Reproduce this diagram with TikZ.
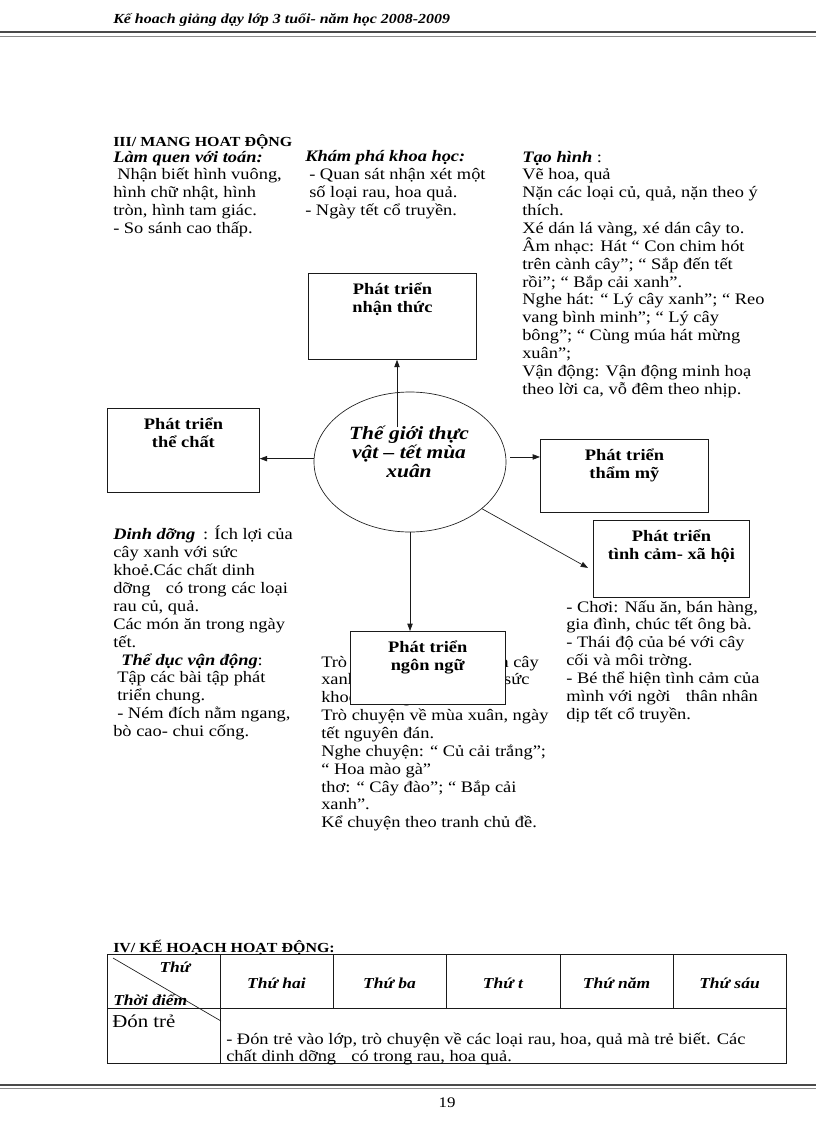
\documentclass[tikz,border=0pt]{standalone}
\usepackage{fontspec}
\setmainfont[FakeStretch=1.15]{Liberation Serif}
\usepackage{tikz}
\usetikzlibrary{arrows.meta,shapes.geometric,positioning,calc}
\definecolor{cLine}{HTML}{1A1A1A}
\definecolor{cRule}{HTML}{4A4A4A}
\definecolor{cRuleL}{HTML}{8A8A8A}
\newcommand\vnlines{\lineskiplimit=-20pt\relax}
\tikzset{
  bodytxt/.style={anchor=base west,align=left,inner sep=0pt,
      font=\fontsize{12}{13.4}\selectfont\vnlines,text=black},
  headtxt/.style={anchor=base west,inner sep=0pt,
      font=\bfseries\fontsize{10.4}{12}\selectfont,text=black},
  devbox/.style={draw=cLine,fill=white,line width=0.6pt,align=center,
      inner xsep=0pt,inner ysep=0pt,anchor=north west,text height=29.15pt,
      font=\bfseries\fontsize{12}{13.4}\selectfont\vnlines},
  devarr/.style={-{Triangle[length=5.5pt,width=4pt]},line width=0.5pt,draw=cLine},
  themeell/.style={ellipse,draw=cLine,line width=0.5pt,inner sep=0pt},
  tabline/.style={draw=cLine,line width=0.6pt},
  tabhead/.style={anchor=base,inner sep=0pt,
      font=\bfseries\itshape\fontsize{11.4}{14}\selectfont},
}

\begin{document}
\begin{tikzpicture}[x=0.75pt,y=-0.75pt]
  \useasboundingbox (0,0) rectangle (816,1123);

  % page header and footer
  \node[anchor=base west,inner sep=0pt,font=\bfseries\itshape\fontsize{10.4}{13}\selectfont]
    (pghead) at (113,24) {Kế hoach giảng dạy lớp 3 tuổi- năm học 2008-2009};
  \draw[draw=cRule,line width=1.5pt] (0,32.5) -- (816,32.5);
  \draw[draw=cRuleL,line width=0.6pt] (0,36.5) -- (816,36.5);
  \draw[draw=cRule,line width=1.2pt] (0,1085) -- (816,1085);
  \draw[draw=cRuleL,line width=0.6pt] (0,1088.5) -- (816,1088.5);
  \node[anchor=base,inner sep=0pt,font=\fontsize{11}{13}\selectfont] (pgnum) at (447,1107) {19};

  \node[headtxt] (sec3) at (113,147) {III/ MANG HOAT ĐỘNG};

  % base anchor = last line of each block
  \node[bodytxt] (toan) at (113,233.5)
   {\textbf{\textit{Làm quen với toán:}}\\
    \hspace{3pt}Nhận biết hình vuông,\\
    hình chữ nhật, hình\\
    tròn, hình tam giác.\\
    - So sánh cao thấp.};

  \node[bodytxt] (khoahoc) at (305,215.6)
   {\textbf{\textit{Khám phá khoa học:}}\\
    \hspace{3pt}- Quan sát nhận xét một\\
    \hspace{3pt}số loại rau, hoa quả.\\
    - Ngày tết cổ truyền.};

  \node[bodytxt] (taohinh) at (522,394.3)
   {\textbf{\textit{Tạo hình}} :\\
    Vẽ hoa, quả\\
    Nặn các loại củ, quả, nặn theo ý\\
    thích.\\
    Xé dán lá vàng, xé dán cây to.\\
    Âm nhạc: Hát “ Con chim hót\\
    trên cành cây”; “ Sắp đến tết\\
    rồi”; “ Bắp cải xanh”.\\
    Nghe hát: “ Lý cây xanh”; “ Reo\\
    vang bình minh”; “ Lý cây\\
    bông”; “ Cùng múa hát mừng\\
    xuân”;\\
    Vận động: Vận động minh hoạ\\
    theo lời ca, vỗ đêm theo nhịp.};

  \node[bodytxt] (dinhduong) at (113,736.5)
   {\textbf{\textit{Dinh dỡng}}\hspace{6pt}: Ích lợi của\\
    cây xanh với sức\\
    khoẻ.Các chất dinh\\
    dỡng\hspace{8pt} có trong các loại\\
    rau củ, quả.\\
    Các món ăn trong ngày\\
    tết.\\
    \hspace{6pt}\textbf{\textit{Thể dục vận động}}:\\
    \hspace{3pt}Tập các bài tập phát\\
    \hspace{3pt}triển chung.\\
    \hspace{3pt}- Ném đích nằm ngang,\\
    bò cao- chui cống.};

  \node[bodytxt] (ngonngu) at (321,827.8)
   {Trò chuyện về ích lợi của cây\\
    xanh, rau củ quả đối với sức\\
    khoẻ con ngời.\\
    Trò chuyện về mùa xuân, ngày\\
    tết nguyên đán.\\
    Nghe chuyện: “ Củ cải trắng”;\\
    “ Hoa mào gà”\\
    thơ: “ Cây đào”; “ Bắp cải\\
    xanh”.\\
    Kể chuyện theo tranh chủ đề.};

  \node[bodytxt] (tinhcam) at (566,719.2)
   {- Chơi: Nấu ăn, bán hàng,\\
    gia đình, chúc tết ông bà.\\
    - Thái độ của bé với cây\\
    cối và môi trờng.\\
    - Bé thể hiện tình cảm của\\
    mình với ngời\hspace{8pt} thân nhân\\
    dịp tết cổ truyền.};

  % mang hoat dong
  \node[devbox,minimum width=126pt,text depth=35.35pt] (nt) at (308,273)
   {Phát triển\\nhận thức};
  \node[devbox,minimum width=114pt,text depth=33.85pt] (tc) at (107,408)
   {Phát triển\\thể chất};
  \node[devbox,minimum width=126pt,text depth=25.6pt] (tm) at (540,439)
   {Phát triển\\thẩm mỹ};
  \node[devbox,minimum width=117pt,text depth=28.6pt] (tcxh) at (593,520)
   {Phát triển\\tình cảm- xã hội};
  \node[devbox,minimum width=116pt,text depth=25.6pt] (nn) at (350,631)
   {Phát triển\\ngôn ngữ};

  \node[themeell,minimum width=144pt,minimum height=105pt] (el) at (410,462) {};
  \node[align=center,inner sep=0pt,font=\bfseries\itshape\fontsize{14}{14.3}\selectfont\vnlines]
    (elT) at (409,452) {Thế giới thực\\vật -- tết mùa\\xuân};

  \coordinate (upS) at (397,427);
  \draw[devarr] (upS) -- (upS |- nt.south);
  \draw[devarr] (el.178) -- (el.178 -| tc.east);
  \draw[devarr,shorten <=3pt] (el.3) -- (el.3 -| tm.west);
  \draw[devarr] (el.-33) -- ($(tcxh.west)+(-5,9)$);
  \draw[devarr] (el.south) -- (el.south |- nn.north);

  % ke hoach hoat dong
  \node[headtxt] (sec4) at (113,952) {IV/ KẾ HOẠCH HOẠT ĐỘNG:};
  \draw[tabline] (107,954) rectangle (786,1063);
  \draw[tabline] (107,1008) -- (786,1008);
  \draw[tabline] (220,954) -- (220,1063);
  \draw[tabline] (333,954) -- (333,1008);
  \draw[tabline] (446,954) -- (446,1008);
  \draw[tabline] (560,954) -- (560,1008);
  \draw[tabline] (673,954) -- (673,1008);
  \draw[draw=cLine,line width=0.5pt] (113,958) -- (221,1021);

  \node[tabhead] (hThu) at (175,972) {Thứ};
  \node[tabhead,anchor=base west] (hTd) at (113,1005) {Thời điểm};
  \node[tabhead] (h2) at (276.5,988) {Thứ hai};
  \node[tabhead] (h3) at (389.5,988) {Thứ ba};
  \node[tabhead] (h4) at (503,988) {Thứ t};
  \node[tabhead] (h5) at (616.5,988) {Thứ năm};
  \node[tabhead] (h6) at (729.5,988) {Thứ sáu};
  \node[anchor=base west,inner sep=0pt,font=\fontsize{13.6}{14}\selectfont]
    (donTre) at (112,1027) {Đón trẻ};
  \node[bodytxt] (donTxt) at (226,1061.9)
   {- Đón trẻ vào lớp, trò chuyện về các loại rau, hoa, quả mà trẻ biết. Các\\
    chất dinh dỡng\hspace{8pt} có trong rau, hoa quả.};
\end{tikzpicture}
\end{document}
